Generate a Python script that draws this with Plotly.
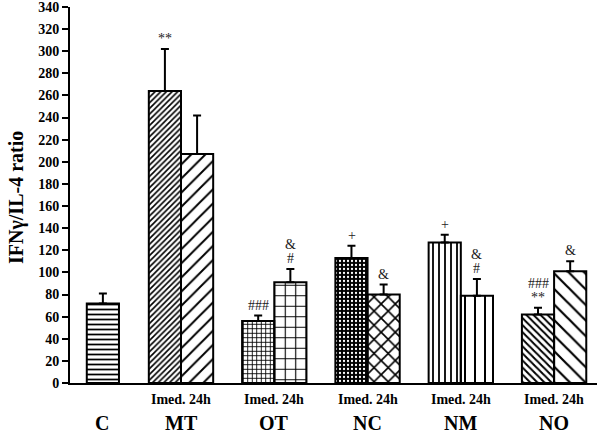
import plotly.graph_objects as go

groups = ["C", "MT", "OT", "NC", "NM", "NO"]
treated = ["MT", "OT", "NC", "NM", "NO"]

control_value = [72]
control_err = [9]

imed_values = [264, 56, 113, 127, 62]
imed_err = [38, 5, 11, 7, 6]

h24_values = [207, 91, 80, 79, 101]
h24_err = [35, 12, 9, 15, 9]

# significance marks (bottom to top) above each bar
imed_marks = [["**"], ["###"], ["+"], ["+"], ["**", "###"]]
h24_marks = [[], ["#", "&"], ["&"], ["#", "&"], ["&"]]

sub_label = "Imed. 24h"

FONT = "Liberation Serif"
BAR_W = 0.345

fig = go.Figure()

fig.add_trace(go.Bar(
    x=["C"], y=control_value, offset=-0.01, width=BAR_W,
    marker=dict(color="white", line=dict(color="black", width=2),
                pattern=dict(shape="-", size=5, solidity=0.35, fgcolor="black", fillmode="replace")),
    error_y=dict(type="data", array=control_err, arrayminus=[0], symmetric=False,
                 color="black", thickness=2, width=4),
    showlegend=False,
))

fig.add_trace(go.Bar(
    x=treated, y=imed_values, offset=-BAR_W, width=BAR_W,
    marker=dict(color="white", line=dict(color="black", width=2),
                pattern=dict(shape=["/", "+", ".", "|", "\\"],
                             size=[4, 4.5, 4, 6, 5],
                             solidity=[0.4, 0.35, 0.25, 0.3, 0.4],
                             fgcolor=["black", "black", "white", "black", "black"],
                             bgcolor=["white", "white", "black", "white", "white"],
                             fillmode="replace")),
    error_y=dict(type="data", array=imed_err, arrayminus=[0] * 5, symmetric=False,
                 color="black", thickness=2, width=4),
    showlegend=False,
))

fig.add_trace(go.Bar(
    x=treated, y=h24_values, offset=0, width=BAR_W,
    marker=dict(color="white", line=dict(color="black", width=2),
                pattern=dict(shape=["/", "+", "x", "|", "\\"],
                             size=[10, 10.5, 10, 10, 11],
                             solidity=[0.2, 0.2, 0.3, 0.2, 0.2],
                             fgcolor="black", fillmode="replace")),
    error_y=dict(type="data", array=h24_err, arrayminus=[0] * 5, symmetric=False,
                 color="black", thickness=2, width=4),
    showlegend=False,
))

annotations = []
bar_px = 16
for i, g in enumerate(treated):
    for marks, vals, errs, shift in ((imed_marks, imed_values, imed_err, -bar_px),
                                     (h24_marks, h24_values, h24_err, bar_px)):
        for k, m in enumerate(marks[i]):
            annotations.append(dict(
                x=g, y=vals[i] + errs[i], xref="x", yref="y",
                text=m, showarrow=False, xshift=shift, yshift=1 + 14 * k,
                yanchor="bottom", font=dict(family=FONT, size=14, color="#222"),
            ))

for g in treated:
    annotations.append(dict(x=g, y=-0.045, xref="x", yref="paper", text=sub_label,
                            showarrow=False, yanchor="middle",
                            font=dict(family=FONT, size=14, color="black", weight="bold")))
for g in groups:
    annotations.append(dict(x=g, y=-0.106, xref="x", yref="paper", text=g,
                            showarrow=False, yanchor="middle", xshift=14 if g == "C" else 0,
                            font=dict(family=FONT, size=20, color="black", weight="bold")))

annotations.append(dict(x=(16 - 70) / 527, y=(383 - 198) / 376, xref="paper", yref="paper",
                        text="IFNγ/IL-4 ratio",
                        showarrow=False, textangle=-90, xanchor="center", yanchor="middle",
                        font=dict(family=FONT, size=20, color="black", weight="bold")))

fig.update_layout(
    width=600, height=434,
    margin=dict(l=70, r=3, t=7, b=51),
    paper_bgcolor="white", plot_bgcolor="white",
    barmode="overlay",
    annotations=annotations,
    xaxis=dict(categoryorder="array", categoryarray=groups, range=[-0.19, 5.46],
               showline=True, linecolor="black", linewidth=2, showticklabels=False,
               ticks="", showgrid=False, zeroline=False),
    yaxis=dict(range=[0, 340], dtick=20, showline=True, linecolor="black", linewidth=2,
               ticks="outside", ticklen=6, tickwidth=2, tickcolor="black",
               showgrid=False, zeroline=False, ticklabeloverflow="allow",
               automargin=False,
               tickfont=dict(family=FONT, size=14, color="black", weight="bold")),
)

fig.write_html("out.html", config={"displayModeBar": False},
               post_script="document.body.style.margin='0';document.body.style.padding='0';")
